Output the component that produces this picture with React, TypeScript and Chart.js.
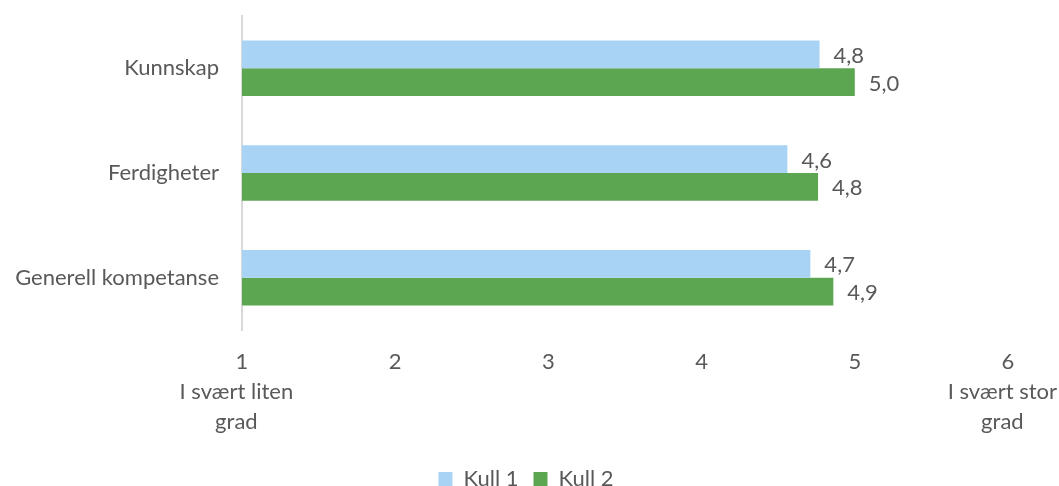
import React, { useEffect, useRef } from "react";
import { Chart, registerables } from "chart.js";

Chart.register(...registerables);

// Categories (top to bottom) and mean scores per cohort on a 1–6 scale
const categories = ["Kunnskap", "Ferdigheter", "Generell kompetanse"];
const seriesNames = ["Kull 1", "Kull 2"];
const kull1 = [4.77, 4.56, 4.71];
const kull2 = [5.0, 4.76, 4.86];
const seriesColors = ["#A9D3F5", "#5CA652"];

// Scale ticks and end-point descriptions (trailing spaces pull the centred text slightly left)
const scaleMin = 1;
const scaleMax = 6;
const lowLabel = ["I svært liten  ", "grad  "];
const highLabel = ["I svært stor  ", "grad  "];

const TEXT = "#595959";
const FAMILY = "Lato, 'Noto Sans', sans-serif";
const SIZE = 22;

const fmt = (v: number) => v.toFixed(1).replace(".", ",");

// Writes each bar's value just past its end
const valueLabels = {
  id: "valueLabels",
  afterDatasetsDraw(chart: any) {
    const { ctx } = chart;
    ctx.save();
    ctx.font = `${SIZE}px ${FAMILY}`;
    ctx.fillStyle = TEXT;
    ctx.textAlign = "left";
    ctx.textBaseline = "middle";
    chart.data.datasets.forEach((ds: any, di: number) => {
      const meta = chart.getDatasetMeta(di);
      meta.data.forEach((bar: any, i: number) => {
        ctx.fillText(fmt(ds.data[i]), bar.x + 14, bar.y + 1.5);
      });
    });
    ctx.restore();
  },
};

export default function App() {
  const ref = useRef<HTMLCanvasElement | null>(null);

  useEffect(() => {
    if (!ref.current) return;
    const chart = new Chart(ref.current, {
      type: "bar",
      data: {
        labels: categories,
        datasets: [
          { label: seriesNames[0], data: kull1, backgroundColor: seriesColors[0] },
          { label: seriesNames[1], data: kull2, backgroundColor: seriesColors[1] },
        ],
      },
      options: {
        indexAxis: "y",
        responsive: false,
        animation: false,
        layout: { padding: { top: 16, right: 7, bottom: 0, left: 0 } },
        datasets: {
          bar: { categoryPercentage: 0.53, barPercentage: 1, base: scaleMin },
        },
        scales: {
          x: {
            type: "linear",
            min: scaleMin,
            max: scaleMax,
            grid: { display: false, drawTicks: false },
            border: { display: false },
            ticks: {
              stepSize: 1,
              padding: 17,
              color: TEXT,
              font: { family: FAMILY, size: SIZE, lineHeight: 1.36 },
              callback: (v: any) => {
                const n = Number(v);
                if (n === scaleMin) return [String(n), ...lowLabel];
                if (n === scaleMax) return [String(n), ...highLabel];
                return String(n);
              },
            },
            afterFit: (s: any) => {
              s.height = 123;
              s.paddingLeft = 0;
              s.paddingRight = 51;
            },
          },
          y: {
            grid: { display: false, drawTicks: false },
            border: { display: true, color: "#D9D9D9", width: 2 },
            ticks: {
              padding: 23,
              color: TEXT,
              font: { family: FAMILY, size: SIZE },
            },
            afterFit: (s: any) => {
              s.width = 242;
              s.paddingTop = 0;
              s.paddingBottom = 0;
            },
          },
        },
        plugins: {
          legend: {
            position: "bottom",
            labels: {
              color: TEXT,
              font: { family: FAMILY, size: SIZE },
              boxWidth: 14,
              boxHeight: 14,
              padding: 15,
            },
          },
          tooltip: { enabled: false },
        },
      },
      plugins: [valueLabels],
    } as any);
    return () => chart.destroy();
  }, []);

  return (
    <div
      style={{
        position: "fixed",
        left: 0,
        top: 0,
        width: 1059,
        height: 486,
        overflow: "hidden",
        background: "#fff",
      }}
    >
      <canvas ref={ref} width={1059} height={500} />
    </div>
  );
}
